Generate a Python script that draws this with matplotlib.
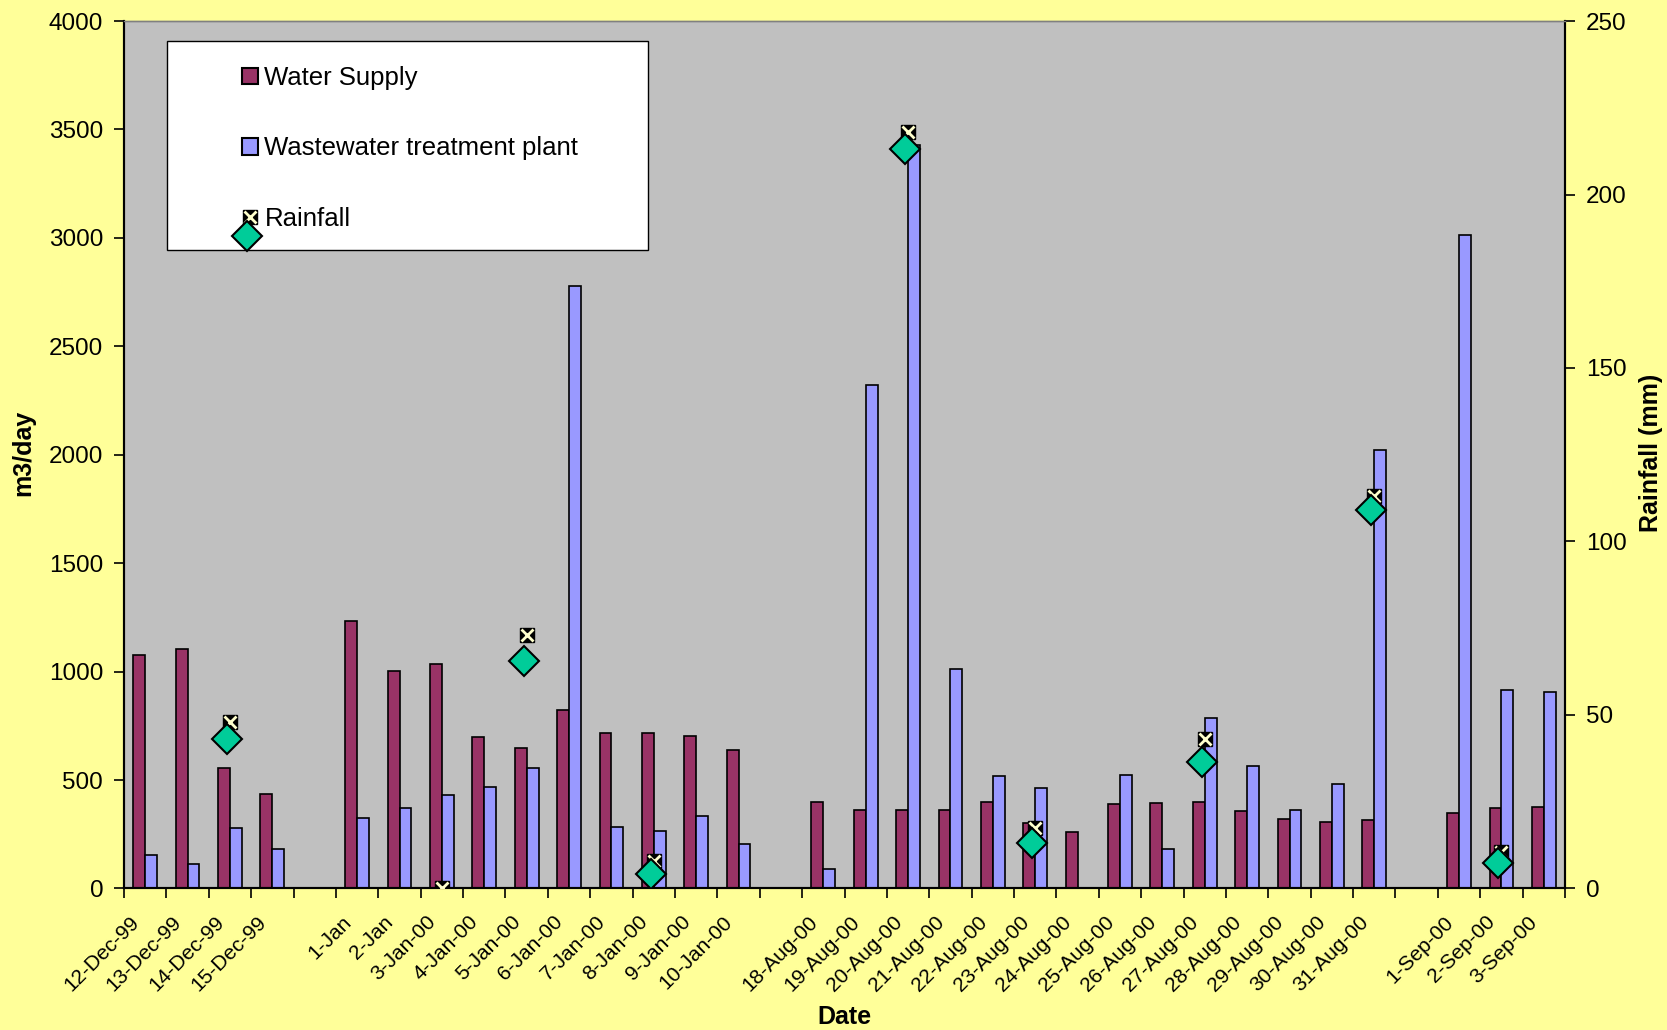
import numpy as np
import matplotlib
matplotlib.use('Agg')
import matplotlib.pyplot as plt
import matplotlib.transforms as mtransforms
from matplotlib.patches import Patch, Rectangle
from matplotlib.lines import Line2D
from matplotlib.legend_handler import HandlerBase

plt.rcParams['font.family'] = ['Liberation Sans', 'DejaVu Sans']

nan = np.nan

dates = ['12-Dec-99', '13-Dec-99', '14-Dec-99', '15-Dec-99', '',
         '1-Jan', '2-Jan', '3-Jan-00', '4-Jan-00', '5-Jan-00', '6-Jan-00',
         '7-Jan-00', '8-Jan-00', '9-Jan-00', '10-Jan-00', '',
         '18-Aug-00', '19-Aug-00', '20-Aug-00', '21-Aug-00', '22-Aug-00',
         '23-Aug-00', '24-Aug-00', '25-Aug-00', '26-Aug-00', '27-Aug-00',
         '28-Aug-00', '29-Aug-00', '30-Aug-00', '31-Aug-00', '',
         '1-Sep-00', '2-Sep-00', '3-Sep-00']

water_supply = [1075, 1105, 555, 435, nan,
                1235, 1005, 1035, 700, 650, 825, 715, 715, 705, 640, nan,
                400, 360, 360, 360, 400, 300, 260, 390, 395, 400, 355, 320, 305, 315, nan,
                350, 370, 375]

wastewater = [155, 115, 280, 180, nan,
              325, 370, 430, 470, 555, 2780, 285, 265, 335, 205, nan,
              90, 2320, 3430, 1010, 520, 465, nan, 525, 180, 785, 565, 360, 480, 2020, nan,
              3015, 915, 905]

# rainfall (mm), square/x markers
rainfall = [nan, nan, 48, nan, nan,
            nan, nan, 0, nan, 73, nan, nan, 8, nan, nan, nan,
            nan, nan, 218, nan, nan, 17.5, nan, nan, nan, 43, nan, nan, nan, 113, nan,
            nan, 10.5, nan]

# green diamonds drawn just under the rainfall points
rain_diamond = [nan, nan, 43, nan, nan,
                nan, nan, nan, nan, 65.5, nan, nan, 4.2, nan, nan, nan,
                nan, nan, 213, nan, nan, 13, nan, nan, nan, 36.5, nan, nan, nan, 109, nan,
                nan, 7.3, nan]

maroon = '#993366'
lilac = '#9999FF'
green = '#00CC99'
cream = '#FFFFCC'

fig = plt.figure(figsize=(16.67, 10.30), dpi=100, facecolor='#FFFF99')
ax = fig.add_axes([0.0744, 0.1374, 0.8644, 0.8422])
ax.set_facecolor('#C0C0C0')

x = np.arange(len(dates))
w = 0.28
ax.bar(x - w / 2, water_supply, w, color=maroon, edgecolor='black', linewidth=1.2, zorder=2)
ax.bar(x + w / 2, wastewater, w, color=lilac, edgecolor='black', linewidth=1.2, zorder=2)

ax.set_xlim(-0.5, len(dates) - 0.5)
ax.set_ylim(0, 4000)
ax.set_yticks(np.arange(0, 4001, 500))
ax.set_xticks(x)
ax.set_xticklabels(dates, fontsize=15)
ax.set_xticks(np.arange(-0.5, len(dates), 1), minor=True)
ax.tick_params(axis='x', which='major', length=0, pad=22)
ax.tick_params(axis='x', which='minor', length=7, width=1.2, direction='out')
ax.tick_params(axis='y', length=7, width=1.2, pad=8, labelsize=17.5)
offset = mtransforms.ScaledTranslation(-9 / 100, 0, fig.dpi_scale_trans)
for lab in ax.get_xticklabels():
    lab.set_rotation(45)
    lab.set_ha('right')
    lab.set_va('center')
    lab.set_rotation_mode('anchor')
    lab.set_transform(lab.get_transform() + offset)

ax2 = ax.twinx()
ax2.set_ylim(0, 250)
ax2.set_yticks(np.arange(0, 251, 50))
ax2.tick_params(axis='y', length=7, width=1.2, pad=8, labelsize=17.5)

for a in (ax, ax2):
    for s in ('left', 'right', 'bottom'):
        a.spines[s].set_color('black')
        a.spines[s].set_linewidth(1.5)
    a.spines['top'].set_color('#808080')
    a.spines['top'].set_linewidth(1)

dtrans = mtransforms.offset_copy(ax2.transData, fig=fig, x=-3, y=0, units='dots')
ax2.plot(x, rainfall, linestyle='none', marker='s', ms=9.5, color='black', zorder=3)
ax2.plot(x, rainfall, linestyle='none', marker='x', ms=9, mew=2, color=cream, zorder=3)
ax2.plot(x, rain_diamond, linestyle='none', marker='D', ms=15, mfc=green, mec='black',
         mew=1.5, transform=dtrans, zorder=4, clip_on=True)


class RainHandler(HandlerBase):
    def create_artists(self, legend, orig_handle, xdescent, ydescent, width, height, fontsize, trans):
        cx = width / 2 - xdescent
        cy = height / 2 - ydescent
        sq = Line2D([cx], [cy], marker='s', ms=9.5, color='black', linestyle='none')
        xm = Line2D([cx], [cy], marker='x', ms=9, mew=2, color=cream, linestyle='none')
        dm = Line2D([cx], [cy], marker='D', ms=15, mfc=green, mec='black', mew=1.5, linestyle='none')
        sq.set_transform(trans)
        xm.set_transform(trans)
        dm.set_transform(trans + mtransforms.Affine2D().translate(-3, -19))
        return [sq, xm, dm]


ax2.add_patch(Rectangle((0.0298, 0.736), 0.3338, 0.241, transform=ax2.transAxes,
                        facecolor='white', edgecolor='black', linewidth=1, zorder=4.5))

rain_handle = Line2D([], [])
handles = [Patch(facecolor=maroon, edgecolor='black', linewidth=1.5),
           Patch(facecolor=lilac, edgecolor='black', linewidth=1.5),
           rain_handle]
leg = ax2.legend(handles, ['Water Supply', 'Wastewater treatment plant', 'Rainfall'],
                 loc='upper left', bbox_to_anchor=(0.0819, 0.948), frameon=False,
                 fontsize=18.5, borderpad=0, borderaxespad=0, handlelength=0.62,
                 handleheight=0.62, handletextpad=0.25, labelspacing=1.8,
                 handler_map={rain_handle: RainHandler()})
leg.set_zorder(5)

fig.text(0.0138, 0.56, 'm3/day', rotation=90, ha='center', va='center', fontsize=18, fontweight='bold')
fig.text(0.9904, 0.56, 'Rainfall (mm)', rotation=90, ha='center', va='center', fontsize=18, fontweight='bold')
fig.text(0.5067, 0.0126, 'Date', ha='center', va='center', fontsize=18, fontweight='bold')

fig.savefig('out.png', dpi=100, facecolor=fig.get_facecolor())
